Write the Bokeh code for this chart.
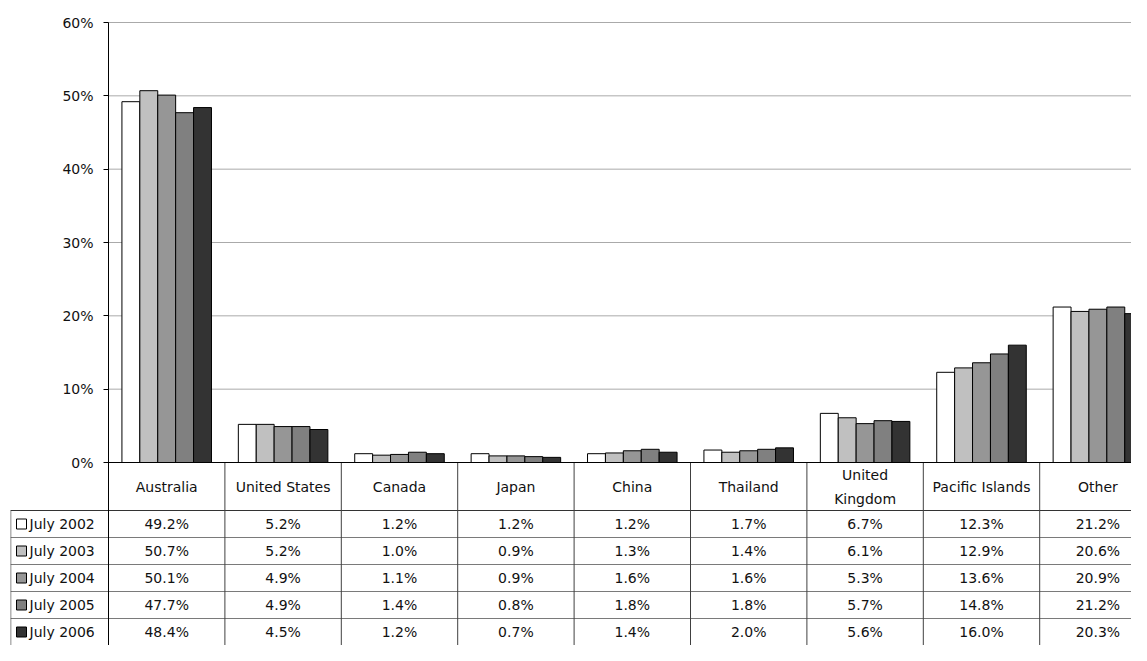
import numpy as np
from bokeh.plotting import figure
from bokeh.models import Range1d, FixedTicker
from bokeh.core.properties import value
from bokeh.embed import file_html
from bokeh.resources import INLINE

# ---------------- data ----------------
categories = ["Australia", "United States", "Canada", "Japan", "China",
              "Thailand", "United\nKingdom", "Pacific Islands", "Other"]
series_names = ["July 2002", "July 2003", "July 2004", "July 2005", "July 2006"]
july_2002 = [49.2, 5.2, 1.2, 1.2, 1.2, 1.7, 6.7, 12.3, 21.2]
july_2003 = [50.7, 5.2, 1.0, 0.9, 1.3, 1.4, 6.1, 12.9, 20.6]
july_2004 = [50.1, 4.9, 1.1, 0.9, 1.6, 1.6, 5.3, 13.6, 20.9]
july_2005 = [47.7, 4.9, 1.4, 0.8, 1.8, 1.8, 5.7, 14.8, 21.2]
july_2006 = [48.4, 4.5, 1.2, 0.7, 1.4, 2.0, 5.6, 16.0, 20.3]
series_values = [july_2002, july_2003, july_2004, july_2005, july_2006]
y_ticks = [0, 10, 20, 30, 40, 50, 60]
y_tick_labels = ["0%", "10%", "20%", "30%", "40%", "50%", "60%"]

# ---------------- styles / geometry ----------------
colors = ["#FFFFFF", "#C0C0C0", "#969696", "#808080", "#333333"]
FONT = value("DejaVu Sans")
FS = "14px"
W, H = 1131, 645
TOP, LEFT = 4, 10
PX_Y = 440 / 60                   # pixels per percent unit
Y_END = 60 + (22 - TOP) / PX_Y
FRAME_H = H - TOP
Y_START = Y_END - FRAME_H / PX_Y
CAT_H = 48 / PX_Y                 # category row height
ROW_H = 27 / PX_Y                 # data row height
COL_PX = 116.4
X_START = -(108 - LEFT) / COL_PX
X_END = (W - 108) / COL_PX
BW = 1 / 6.5                      # bar width
N = len(categories)

p = figure(width=W, height=H, output_backend="svg", toolbar_location=None,
           x_range=Range1d(X_START, X_END), y_range=Range1d(Y_START, Y_END),
           x_axis_type=None, min_border_left=LEFT, min_border_right=0,
           min_border_top=TOP, min_border_bottom=0)
p.outline_line_color = None
p.background_fill_color = "white"
p.ygrid.visible = False

# gridlines (10%..60%) across the plot area only
gy = y_ticks[1:]
p.segment(x0=[0] * len(gy), y0=gy, x1=[N] * len(gy), y1=gy,
          line_color="#AAAAAA", line_width=1)

# bars
idx = np.arange(N)
for i, (name, vals) in enumerate(zip(series_names, series_values)):
    xs = idx + 0.5 + (i - 2) * BW
    p.vbar(x=xs, top=vals, bottom=0, width=BW, fill_color=colors[i],
           line_color="black", line_width=1)

# table lines
row_tops = [-CAT_H - k * ROW_H for k in range(len(series_names) + 1)]
bottom = row_tops[-1]
p.segment(x0=[X_START] * len(row_tops), y0=row_tops, x1=[N] * len(row_tops),
          y1=row_tops, line_color="#7A7A7A", line_width=1)
p.segment(x0=[X_START], y0=[-CAT_H], x1=[N], y1=[-CAT_H],
          line_color="#333333", line_width=1)
vx = list(range(1, N + 1))
p.segment(x0=vx, y0=[0] * len(vx), x1=vx, y1=[bottom] * len(vx),
          line_color="#404040", line_width=1)
p.segment(x0=[X_START + 0.002], y0=[-CAT_H], x1=[X_START + 0.002], y1=[bottom],
          line_color="#404040", line_width=1)
# 0% line
p.segment(x0=[0], y0=[0], x1=[N], y1=[0], line_color="black", line_width=1)

# y axis drawn at x = 0
ax = p.yaxis[0]
ax.fixed_location = 0
ax.bounds = (Y_START, 60)
ax.ticker = FixedTicker(ticks=y_ticks)
ax.major_label_overrides = {t: l for t, l in zip(y_ticks, y_tick_labels)}
ax.minor_tick_line_color = None
ax.major_tick_in = 0
ax.major_tick_out = 5
ax.major_label_standoff = 10
ax.axis_line_color = "black"
ax.major_tick_line_color = "black"
ax.major_label_text_font = "DejaVu Sans"
ax.major_label_text_font_size = FS
ax.major_label_text_color = "#111111"

# category labels
p.text(x=idx + 0.5, y=[-CAT_H / 2] * N, text=categories, text_align="center",
       text_baseline="middle", text_font=FONT, text_font_size=FS,
       text_color="#111111", text_line_height=1.5)

# table values
tx, ty, tt = [], [], []
for i, vals in enumerate(series_values):
    yc = -CAT_H - (i + 0.5) * ROW_H
    for j, v in enumerate(vals):
        tx.append(j + 0.5)
        ty.append(yc)
        tt.append(f"{v:.1f}%")
p.text(x=tx, y=ty, text=tt, text_align="center", text_baseline="middle",
       text_font=FONT, text_font_size=FS, text_color="#111111")

# legend column
row_c = [-CAT_H - (i + 0.5) * ROW_H for i in range(len(series_names))]
p.scatter(x=[-87 / COL_PX] * len(series_names), y=row_c, marker="square", size=10,
          fill_color=colors, line_color="black", line_width=1)
p.text(x=[-79 / COL_PX] * len(series_names), y=row_c, text=series_names,
       text_align="left", text_baseline="middle", text_font=FONT,
       text_font_size=FS, text_color="#111111")

open("out.html", "w").write(file_html(p, INLINE))
